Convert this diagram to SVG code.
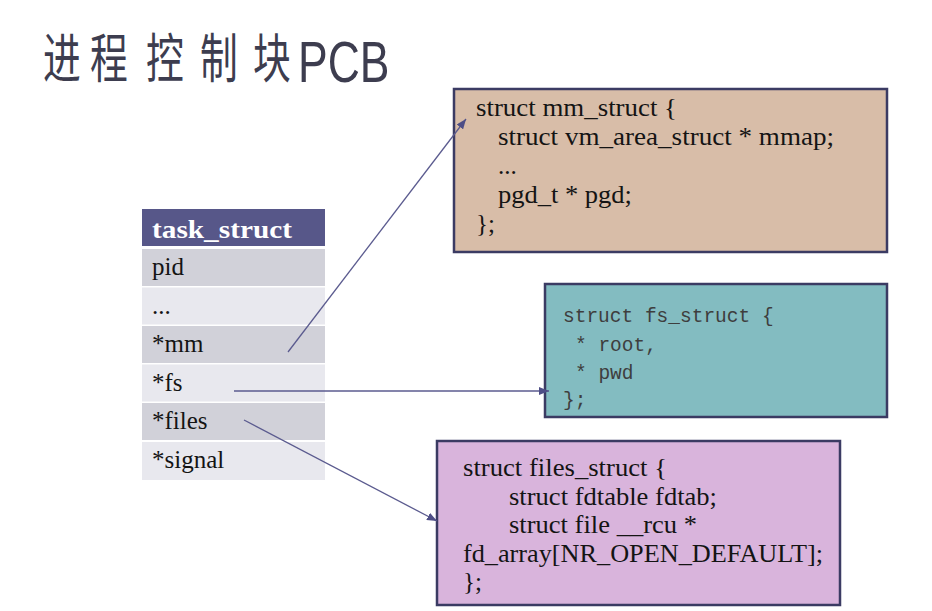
<svg xmlns="http://www.w3.org/2000/svg" width="932" height="611" viewBox="0 0 932 611">
<style>
.title{font-family:"Noto Sans CJK SC","Noto Sans",sans-serif;fill:#3d3d4f;}
.latin{font-family:"Liberation Sans","Noto Sans",sans-serif;fill:#3d3d4f;}
.serif{font-family:"Liberation Serif","Times New Roman",serif;font-size:25px;fill:#141414;}
.hdr{font-family:"Liberation Serif","Times New Roman",serif;font-size:26px;font-weight:bold;fill:#ffffff;}
.mono{font-family:"Liberation Mono","Courier New",monospace;font-size:19.5px;fill:#3e3e3e;}
.rowA{fill:#d1d1d9;}
.rowB{fill:#e8e8ee;}
.box{stroke:#3b3b63;stroke-width:2.5;}
.conn{stroke:#5b5b8f;stroke-width:1.3;fill:none;marker-end:url(#arr);}
</style>
<defs>
<marker id="arr" markerUnits="userSpaceOnUse" markerWidth="10" markerHeight="8" refX="10" refY="4" orient="auto">
<path d="M0,0 L10,4 L0,8 z" fill="#4e4e86"/>
</marker>
</defs>
<rect width="932" height="611" fill="#ffffff"/>

<g id="title">
<text class="title" font-size="54" transform="translate(43,78) scale(0.7,1)">进</text>
<text class="title" font-size="54" transform="translate(90,78) scale(0.7,1)">程</text>
<text class="title" font-size="54" transform="translate(146,78) scale(0.7,1)">控</text>
<text class="title" font-size="54" transform="translate(200,78) scale(0.7,1)">制</text>
<text class="title" font-size="54" transform="translate(253,78) scale(0.7,1)">块</text>
<text class="latin" font-size="57" transform="translate(298,82) scale(0.78,1)">PCB</text>
</g>

<g id="task_struct">
<rect x="142" y="209" width="183" height="37" fill="#575789"/>
<text class="hdr" x="152" y="238" textLength="140" lengthAdjust="spacingAndGlyphs">task_struct</text>
<rect class="rowA" x="142" y="249" width="183" height="37"/>
<text class="serif" x="152" y="275">pid</text>
<rect class="rowB" x="142" y="287.5" width="183" height="37"/>
<text class="serif" x="152" y="314">...</text>
<rect class="rowA" x="142" y="326" width="183" height="37"/>
<text class="serif" x="152" y="352">*mm</text>
<rect class="rowB" x="142" y="364.5" width="183" height="37"/>
<text class="serif" x="152" y="391">*fs</text>
<rect class="rowA" x="142" y="403" width="183" height="37"/>
<text class="serif" x="152" y="429">*files</text>
<rect class="rowB" x="142" y="442" width="183" height="38"/>
<text class="serif" x="152" y="468">*signal</text>
</g>

<g id="mm_struct">
<rect class="box" x="454" y="89" width="433" height="163" fill="#d8bda8"/>
<text class="serif" x="476" y="116" textLength="201" lengthAdjust="spacingAndGlyphs">struct mm_struct {</text>
<text class="serif" x="498" y="145" textLength="336" lengthAdjust="spacingAndGlyphs">struct vm_area_struct * mmap;</text>
<text class="serif" x="498" y="174">...</text>
<text class="serif" x="498" y="203" textLength="134" lengthAdjust="spacingAndGlyphs">pgd_t * pgd;</text>
<text class="serif" x="476" y="232">};</text>
</g>

<g id="fs_struct">
<rect class="box" x="545" y="284" width="342" height="133" fill="#83bcc1"/>
<text class="mono" x="563" y="322">struct fs_struct {</text>
<text class="mono" x="575" y="351">* root,</text>
<text class="mono" x="575" y="379">* pwd</text>
<text class="mono" x="563" y="406">};</text>
</g>

<g id="files_struct">
<rect class="box" x="437" y="441" width="403" height="164" fill="#d9b4dc"/>
<text class="serif" x="463" y="476" textLength="204" lengthAdjust="spacingAndGlyphs">struct files_struct {</text>
<text class="serif" x="509" y="505" textLength="208" lengthAdjust="spacingAndGlyphs">struct fdtable fdtab;</text>
<text class="serif" x="509" y="533" textLength="188" lengthAdjust="spacingAndGlyphs">struct file __rcu *</text>
<text class="serif" x="463" y="562" textLength="360" lengthAdjust="spacingAndGlyphs">fd_array[NR_OPEN_DEFAULT];</text>
<text class="serif" x="463" y="590">};</text>
</g>

<g id="connectors">
<line class="conn" x1="288" y1="352" x2="466" y2="119"/>
<line class="conn" x1="234" y1="391" x2="549" y2="391"/>
<line class="conn" x1="244" y1="420" x2="437" y2="521"/>
</g>
</svg>
